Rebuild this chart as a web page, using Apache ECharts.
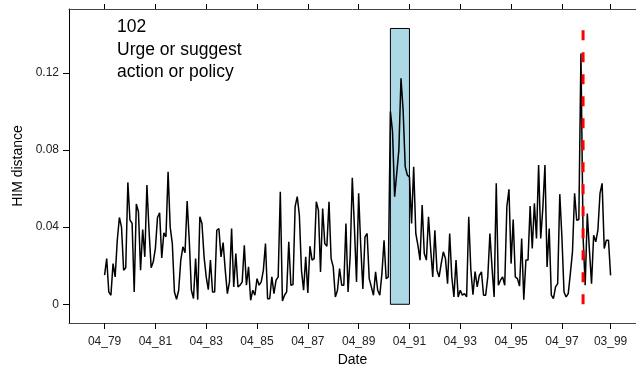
<!DOCTYPE html>
<html>
<head>
<meta charset="utf-8">
<script src="https://cdn.jsdelivr.net/npm/echarts@6/dist/echarts.min.js"></script>
<style>
  html, body { margin: 0; padding: 0; background: #fff; }
  #chart { width: 636px; height: 369px; }
</style>
</head>
<body>
<div id="chart"></div>
<script>
// Monthly HIM distance, April 1979 (month 0) to March 1999 (month 239)
const tickMonths = [0, 24, 48, 72, 96, 120, 144, 168, 192, 216, 239];
const tickLabels = ['04_79', '04_81', '04_83', '04_85', '04_87', '04_89', '04_91', '04_93', '04_95', '04_97', '03_99'];
const yTicks = [0, 0.04, 0.08, 0.12];

const himDistance = [
  0.0151, 0.0237, 0.0064, 0.0047, 0.0211, 0.0142, 0.0332, 0.0450, 0.0400, 0.0177,
  0.0190, 0.0632, 0.0436, 0.0420, 0.0064, 0.0520, 0.0480, 0.0177, 0.0388, 0.0246,
  0.0618, 0.0384, 0.0190, 0.0220, 0.0290, 0.0450, 0.0474, 0.0240, 0.0370, 0.0350,
  0.0687, 0.0400, 0.0315, 0.0064, 0.0026, 0.0073, 0.0229, 0.0298, 0.0267, 0.0535,
  0.0332, 0.0073, 0.0030, 0.0237, 0.0024, 0.0454, 0.0419, 0.0246, 0.0142, 0.0076,
  0.0229, 0.0064, 0.0064, 0.0384, 0.0393, 0.0246, 0.0320, 0.0177, 0.0055, 0.0116,
  0.0393, 0.0090, 0.0263, 0.0090, 0.0099, 0.0116, 0.0306, 0.0099, 0.0194, 0.0021,
  0.0073, 0.0047, 0.0133, 0.0099, 0.0116, 0.0177, 0.0315, 0.0029, 0.0029, 0.0142,
  0.0055, 0.0125, 0.0142, 0.0584, 0.0017, 0.0047, 0.0064, 0.0324, 0.0099, 0.0102,
  0.0506, 0.0558, 0.0462, 0.0177, 0.0073, 0.0246, 0.0059, 0.0301, 0.0229, 0.0237,
  0.0532, 0.0488, 0.0168, 0.0497, 0.0315, 0.0301, 0.0532, 0.0237, 0.0194, 0.0038,
  0.0073, 0.0185, 0.0099, 0.0099, 0.0419, 0.0064, 0.0250, 0.0656, 0.0400, 0.0116,
  0.0575, 0.0300, 0.0080, 0.0350, 0.0367, 0.0133, 0.0090, 0.0047, 0.0168, 0.0073,
  0.0047, 0.0160, 0.0332, 0.0133, 0.0142, 0.0999, 0.0895, 0.0558, 0.0680, 0.0800,
  0.1172, 0.1008, 0.0713, 0.0670, 0.0661, 0.0419, 0.0713, 0.0367, 0.0306, 0.0229,
  0.0514, 0.0263, 0.0229, 0.0454, 0.0289, 0.0142, 0.0384, 0.0177, 0.0142, 0.0211,
  0.0272, 0.0237, 0.0107, 0.0367, 0.0142, 0.0038, 0.0229, 0.0038, 0.0073, 0.0047,
  0.0055, 0.0038, 0.0454, 0.0177, 0.0050, 0.0170, 0.0090, 0.0150, 0.0168, 0.0047,
  0.0047, 0.0142, 0.0367, 0.0190, 0.0038, 0.0627, 0.0099, 0.0125, 0.0142, 0.0099,
  0.0506, 0.0596, 0.0211, 0.0440, 0.0142, 0.0133, 0.0094, 0.0341, 0.0024, 0.0229,
  0.0229, 0.0509, 0.0289, 0.0523, 0.0341, 0.0722, 0.0341, 0.0500, 0.0722, 0.0194,
  0.0393, 0.0047, 0.0029, 0.0090, 0.0107, 0.0571, 0.0350, 0.0064, 0.0038, 0.0055,
  0.0160, 0.0272, 0.0575, 0.0436, 0.0440, 0.1300, 0.0350, 0.0099, 0.0470, 0.0280,
  0.0107, 0.0358, 0.0324, 0.0384, 0.0575, 0.0627, 0.0289, 0.0332, 0.0332, 0.0150
];

// Shaded event period (months since 04_79) and its height
const eventSpan = [135, 144];
const eventTop = 0.143;
// Month marked by the dashed vertical line
const markerMonth = 226;

const annotation = ['102', 'Urge or suggest', 'action or policy'];

const FONT = '"Liberation Sans", Arial, Helvetica, sans-serif';
const xMin = -16.8, xMax = 251.0;
const yMin = -0.0097, yMax = 0.1531;

const chart = echarts.init(document.getElementById('chart'), null, { renderer: 'canvas' });

const labelFor = v => {
  const k = tickMonths.indexOf(Math.round(v));
  return k >= 0 ? tickLabels[k] : '';
};

chart.setOption({
  animation: false,
  backgroundColor: '#fff',
  grid: { left: 69, right: 0, top: 9, bottom: 46, containLabel: false, outerBoundsMode: 'none' },
  xAxis: [
    {
      type: 'value', position: 'bottom', min: xMin, max: xMax,
      name: 'Date', nameLocation: 'middle', nameGap: 30,
      nameTextStyle: { fontFamily: FONT, fontSize: 14, color: '#000' },
      axisLine: { show: true, onZero: false, lineStyle: { color: '#444', width: 1 } },
      axisTick: { show: true, inside: false, length: 6, customValues: tickMonths, lineStyle: { color: '#000' } },
      axisLabel: { show: true, customValues: tickMonths, formatter: labelFor, margin: 13,
                   fontFamily: FONT, fontSize: 12, color: '#222' },
      splitLine: { show: false }
    },
    {
      type: 'value', position: 'top', min: xMin, max: xMax,
      axisLine: { show: true, onZero: false, lineStyle: { color: '#444', width: 1 } },
      axisTick: { show: true, inside: false, length: 5, customValues: tickMonths, lineStyle: { color: '#000' } },
      axisLabel: { show: false },
      splitLine: { show: false }
    }
  ],
  yAxis: {
    type: 'value', position: 'left', min: yMin, max: yMax,
    name: 'HIM distance', nameLocation: 'middle', nameGap: 44, nameRotate: 90,
    nameTextStyle: { fontFamily: FONT, fontSize: 14, color: '#000' },
    axisLine: { show: true, onZero: false, lineStyle: { color: '#000', width: 1 } },
    axisTick: { show: true, inside: false, length: 6, customValues: yTicks, lineStyle: { color: '#000' } },
    axisLabel: { show: true, customValues: yTicks, margin: 10, fontFamily: FONT, fontSize: 12, color: '#222',
                 formatter: v => String(Math.round(v * 100) / 100) },
    splitLine: { show: false }
  },
  series: [
    {
      type: 'custom',
      silent: true,
      z: 1,
      encode: { x: [0, 1], y: 2 },
      data: [[eventSpan[0], eventSpan[1], eventTop]],
      renderItem: (params, api) => {
        const tl = api.coord([api.value(0), api.value(2)]);
        const br = api.coord([api.value(1), 0]);
        return {
          type: 'rect',
          shape: { x: tl[0], y: tl[1], width: br[0] - tl[0], height: br[1] - tl[1] },
          style: { fill: '#ADD8E6', stroke: '#000', lineWidth: 1 }
        };
      }
    },
    {
      type: 'line',
      z: 3,
      silent: true,
      showSymbol: false,
      symbol: 'none',
      data: himDistance.map((v, i) => [i, v]),
      lineStyle: { color: '#000', width: 1.5 }
    },
    {
      type: 'line',
      z: 4,
      silent: true,
      symbol: 'none',
      data: [[markerMonth, 0], [markerMonth, eventTop]],
      lineStyle: { color: '#FF0000', width: 3, type: [10, 12] }
    }
  ],
  graphic: [
    {
      type: 'text', left: 117, top: 16, silent: true,
      style: { text: annotation.join('\n'), fontFamily: FONT, fontSize: 17.5, lineHeight: 22.5, fill: '#000' }
    }
  ]
});
</script>
</body>
</html>
